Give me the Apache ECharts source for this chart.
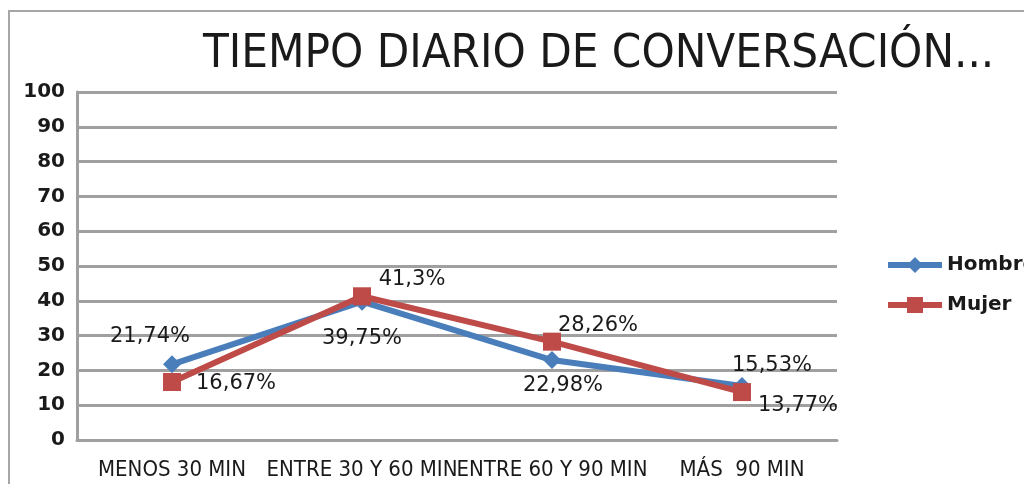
<!DOCTYPE html>
<html>
<head>
<meta charset="utf-8">
<script src="https://cdn.jsdelivr.net/npm/echarts@6/dist/echarts.min.js"></script>
<style>
  html, body { margin: 0; padding: 0; background: #fff; }
  #frame { position: absolute; left: 8px; top: 10px; width: 1030px; height: 490px; border: 2px solid #a6a6a6; box-sizing: border-box; }
  #chart { position: absolute; left: 0; top: 0; width: 1024px; height: 484px; }
</style>
</head>
<body>
<div id="frame"></div>
<div id="chart"></div>
<script>
const categories = ["MENOS 30 MIN", "ENTRE 30 Y 60 MIN", "ENTRE 60 Y 90 MIN", "MÁS  90 MIN"];
const hombre = [21.74, 39.75, 22.98, 15.53];
const mujer = [16.67, 41.3, 28.26, 13.77];
const hombreLabels = ["21,74%", "39,75%", "22,98%", "15,53%"];
const mujerLabels = ["16,67%", "41,3%", "28,26%", "13,77%"];

const chart = echarts.init(document.getElementById("chart"));

const labelFont = { fontFamily: "DejaVu Sans", fontSize: 21, color: "#1a1a1a" };
const hombrePos = [
  { position: "top", offset: [-22, -3] },
  { position: "bottom", offset: [0, 12] },
  { position: "bottom", offset: [11, 1] },
  { position: "top", offset: [30, 4] }
];
const mujerPos = [
  { position: "right", offset: [10, 2] },
  { position: "top", offset: [50, 8] },
  { position: "right", offset: [-8, -16] },
  { position: "right", offset: [2, 13] }
];

const option = {
  animation: false,
  title: {
    text: "TIEMPO DIARIO DE CONVERSACIÓN...",
    left: 198,
    top: 26,
    textStyle: { fontFamily: "DejaVu Sans Condensed", fontWeight: "normal", fontSize: 47, color: "#1a1a1a" }
  },
  legend: {
    orient: "vertical",
    left: 880,
    top: 250,
    itemGap: 20,
    itemWidth: 54,
    itemHeight: 20,
    itemTextGap: 4,
    textStyle: { fontFamily: "DejaVu Sans", fontWeight: "bold", fontSize: 20, color: "#1a1a1a" },
    data: [
      { name: "Hombre", lineStyle: { width: 6 } },
      { name: "Mujer", lineStyle: { width: 6 } }
    ]
  },
  grid: { left: 77, right: 187, top: 92, bottom: 44 },
  xAxis: {
    type: "category",
    data: categories,
    boundaryGap: true,
    axisLine: { lineStyle: { color: "#a0a0a0", width: 3 } },
    axisTick: { show: false },
    axisLabel: {
      interval: 0,
      margin: 19,
      fontFamily: "DejaVu Sans Condensed",
      fontSize: 22,
      color: "#1a1a1a"
    }
  },
  yAxis: {
    type: "value",
    min: 0,
    max: 100,
    interval: 10,
    axisLine: { show: true, lineStyle: { color: "#a0a0a0", width: 3 } },
    axisTick: { show: false },
    splitLine: { lineStyle: { color: "#a0a0a0", width: 3 } },
    axisLabel: {
      margin: 12,
      fontFamily: "DejaVu Sans",
      fontWeight: "bold",
      fontSize: 20,
      color: "#1a1a1a"
    }
  },
  series: [
    {
      name: "Hombre",
      type: "line",
      data: hombre.map((v, i) => ({
        value: v,
        label: Object.assign({ show: true, formatter: hombreLabels[i] }, labelFont, hombrePos[i])
      })),
      symbol: "diamond",
      symbolSize: 18,
      itemStyle: { color: "#4a7ebb" },
      lineStyle: { color: "#4a7ebb", width: 6 }
    },
    {
      name: "Mujer",
      type: "line",
      data: mujer.map((v, i) => ({
        value: v,
        label: Object.assign({ show: true, formatter: mujerLabels[i] }, labelFont, mujerPos[i])
      })),
      symbol: "rect",
      symbolSize: 18,
      itemStyle: { color: "#be4b48" },
      lineStyle: { color: "#be4b48", width: 6 }
    }
  ]
};

chart.setOption(option);
</script>
</body>
</html>
